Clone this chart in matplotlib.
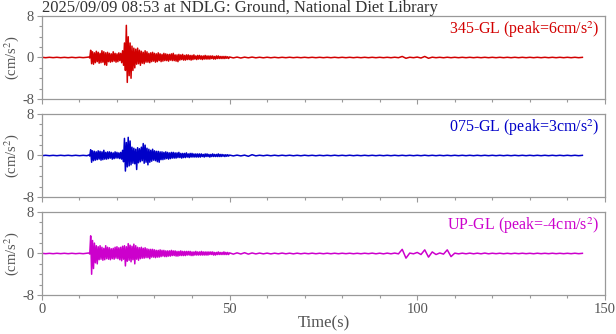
import numpy as np
import matplotlib
matplotlib.use("Agg")
import matplotlib.pyplot as plt
from matplotlib.ticker import MultipleLocator

plt.rcParams['font.family'] = ['Liberation Serif', 'DejaVu Serif']
plt.rcParams['mathtext.fontset'] = 'stix'

# Datos (cm/s2)
# tramo previo: 0..12 s cada 1 s
# tramo principal: desde 12.5 s cada 0.25 s
# cola: desde 50 s cada 1 s
pre_345 = [0.04, -0.04, 0.04, -0.03, 0.04, -0.04, 0.03, -0.04, 0.04, -0.04, 0.04, -0.03, 0.04]
main_345 = [0.1, -0.1,
    1.4, -1.2, 1.1, -1.3,  0.9, -1.0, 1.2, -0.8,  1.0, -1.1, 0.8, -1.0,  1.3, -0.9, 1.1, -1.4,
    0.9, -1.5, 1.0, -0.8,  0.8, -0.9, 0.7, -0.8,  1.1, -0.7, 0.8, -0.9,  0.7, -0.8, 0.9, -0.6,
    0.8, -1.0, 1.3, -1.5,  2.8, -2.5, 6.2, -4.8,  4.0, -3.5, 2.8, -4.0,  2.2, -2.5, 1.8, -2.0,
    1.6, -1.3, 1.8, -1.2,  1.4, -1.5, 1.2, -1.1,  1.0, -1.2, 1.3, -0.9,  1.1, -0.9, 0.8, -1.0,
    0.9, -0.8, 1.0, -0.7,  0.8, -0.9, 0.7, -0.8,  0.9, -0.6, 0.7, -0.8,  0.6, -0.7, 0.8, -0.6,
    0.7, -0.6, 0.6, -0.7,  0.6, -0.5, 0.7, -0.6,  0.8, -0.6, 0.5, -0.7,  0.5, -0.8, 0.6, -0.5,
    0.5, -0.4, 0.6, -0.5,  0.4, -0.5, 0.5, -0.4,  0.5, -0.4, 0.4, -0.5,  0.4, -0.4, 0.5, -0.3,
    0.3, -0.4, 0.4, -0.3,  0.4, -0.3, 0.3, -0.4,  0.3, -0.3, 0.4, -0.3,  0.3, -0.3, 0.3, -0.3,
    0.3, -0.2, 0.3, -0.3,  0.2, -0.3, 0.3, -0.2,  0.3, -0.2, 0.2, -0.2,  0.2, -0.2, 0.2, -0.2,
    0.2, -0.15, 0.15, -0.2]
tail_345 = [0.1, -0.08, 0.08, -0.1, 0.07, -0.06, 0.08, -0.06, 0.05, -0.06,
    0.05, -0.05, 0.04, -0.05, 0.04, -0.04, 0.05, -0.04, 0.04, -0.04,
    0.04, -0.04, 0.04, -0.04, 0.04, -0.04, 0.04, -0.04, 0.04, -0.04,
    0.04, -0.04, 0.04, -0.04, 0.04, -0.04, 0.04, -0.04, 0.04, -0.04,
    0.04, -0.04, 0.04, -0.04, 0.05, -0.04, 0.2, -0.15, 0.05, -0.04,
    0.08, -0.1, 0.2, -0.15, 0.06, -0.04, 0.04, -0.05, 0.05, -0.04,
    0.04, -0.04, 0.04, -0.04, 0.04, -0.04, 0.04, -0.04, 0.04, -0.04,
    0.04, -0.04, 0.04, -0.04, 0.04, -0.04, 0.04, -0.04, 0.04, -0.04,
    0.04, -0.04, 0.04, -0.04, 0.04, -0.04, 0.04, -0.04, 0.04, -0.04,
    0.04, -0.04, 0.04, -0.04, 0.03]

pre_075 = [-0.04, 0.04, -0.04, 0.03, -0.04, 0.04, -0.03, 0.04, -0.04, 0.04, -0.04, 0.03, -0.04]
main_075 = [0.1, -0.1,
    1.1, -1.3, 0.9, -1.0,  0.8, -0.9, 0.7, -0.8,  0.9, -0.7, 0.8, -0.9,  0.7, -0.8, 1.0, -0.7,
    0.6, -0.7, 0.7, -0.6,  0.7, -0.5, 0.6, -0.7,  0.5, -0.6, 0.7, -0.5,  0.6, -0.5, 0.5, -0.6,
    0.6, -0.7, 1.0, -1.2,  3.3, -3.0, 2.5, -2.2,  3.5, -2.0, 2.8, -1.8,  1.6, -1.5, 1.4, -1.6,
    1.2, -2.7, 1.5, -1.4,  1.3, -1.2, 1.6, -1.0,  2.3, -1.5, 2.0, -1.3,  1.4, -1.8, 1.2, -1.3,
    1.0, -1.1, 1.2, -0.9,  0.9, -1.0, 0.8, -1.2,  0.8, -1.3, 0.7, -0.8,  0.7, -0.8, 0.6, -0.7,
    0.7, -0.6, 0.6, -0.7,  0.5, -0.6, 0.6, -0.5,  0.6, -0.5, 0.5, -0.5,  0.5, -0.4, 0.6, -0.4,
    0.4, -0.5, 0.4, -0.4,  0.4, -0.4, 0.5, -0.3,  0.3, -0.4, 0.4, -0.3,  0.4, -0.3, 0.3, -0.3,
    0.3, -0.3, 0.3, -0.3,  0.3, -0.3, 0.3, -0.2,  0.2, -0.3, 0.3, -0.2,  0.3, -0.2, 0.2, -0.3,
    0.2, -0.2, 0.3, -0.2,  0.2, -0.2, 0.2, -0.2,  0.3, -0.2, 0.2, -0.2,  0.2, -0.15, 0.15, -0.2,
    0.15, -0.15, 0.15, -0.12]
tail_075 = [0.08, -0.08, 0.07, -0.08, 0.07, -0.15, 0.15, -0.07, 0.05, -0.05,
    0.06, -0.05, 0.05, -0.05, 0.05, -0.04, 0.05, -0.05, 0.04, -0.05,
    0.05, -0.04, 0.04, -0.05, 0.04, -0.04, 0.04, -0.04, 0.05, -0.04,
    0.04, -0.04, 0.05, -0.04, 0.04, -0.04, 0.04, -0.04, 0.04, -0.04,
    0.04, -0.04, 0.04, -0.04, 0.04, -0.04, 0.04, -0.04, 0.04, -0.04,
    0.04, -0.04, 0.05, -0.04, 0.04, -0.04, 0.04, -0.04, 0.04, -0.04,
    0.04, -0.04, 0.04, -0.04, 0.04, -0.04, 0.04, -0.04, 0.04, -0.04,
    0.04, -0.04, 0.04, -0.04, 0.04, -0.04, 0.04, -0.04, 0.04, -0.04,
    0.04, -0.04, 0.04, -0.04, 0.04, -0.04, 0.04, -0.04, 0.04, -0.04,
    0.04, -0.04, 0.04, -0.04, 0.03]

pre_up = [0.04, -0.04, 0.03, -0.04, 0.04, -0.03, 0.04, -0.04, 0.04, -0.04, 0.03, -0.04, 0.04]
main_up = [0.1, -0.1,
    3.4, -4.0, 2.5, -2.9,  2.0, -1.8, 1.5, -2.0,  1.3, -1.2, 1.5, -1.1,  1.2, -1.3, 1.0, -1.2,
    1.5, -1.0, 1.2, -1.1,  1.1, -1.2, 0.9, -1.0,  1.0, -1.1, 1.2, -0.9,  1.3, -1.0, 1.1, -1.2,
    1.2, -1.4, 1.4, -1.1,  1.5, -2.4, 1.3, -1.5,  1.9, -1.3, 1.6, -1.6,  1.4, -1.2, 1.8, -2.0,
    1.5, -1.1, 1.2, -1.3,  1.1, -1.0, 1.2, -0.9,  1.0, -0.9, 1.1, -0.8,  0.9, -0.8, 0.8, -1.0,
    0.8, -0.7, 0.8, -0.7,  0.7, -0.8, 0.6, -0.7,  0.6, -0.7, 0.7, -0.6,  0.6, -0.5, 0.6, -0.6,
    0.5, -0.6, 0.5, -0.5,  0.5, -0.5, 0.6, -0.4,  0.5, -0.4, 0.5, -0.5,  0.4, -0.5, 0.4, -0.4,
    0.5, -0.4, 0.4, -0.4,  0.4, -0.4, 0.4, -0.3,  0.4, -0.3, 0.4, -0.4,  0.3, -0.4, 0.3, -0.3,
    0.4, -0.3, 0.3, -0.3,  0.3, -0.3, 0.4, -0.3,  0.3, -0.3, 0.3, -0.3,  0.3, -0.3, 0.3, -0.2,
    0.3, -0.2, 0.3, -0.3,  0.2, -0.3, 0.2, -0.2,  0.3, -0.2, 0.2, -0.2,  0.2, -0.2, 0.3, -0.2,
    0.2, -0.2, 0.2, -0.2]
tail_up = [0.12, -0.12, 0.12, -0.1, 0.15, -0.12, 0.1, -0.08, 0.08, -0.07,
    0.07, -0.08, 0.06, -0.06, 0.08, -0.06, 0.06, -0.07, 0.06, -0.06,
    0.05, -0.05, 0.06, -0.05, 0.05, -0.05, 0.05, -0.05, 0.05, -0.05,
    0.05, -0.04, 0.05, -0.05, 0.04, -0.05, 0.05, -0.04, 0.07, -0.06,
    0.06, -0.07, 0.07, -0.06, 0.08, -0.07, 0.8, -0.9, 0.08, -0.06,
    0.2, -0.2, 0.7, -0.7, 0.3, -0.2, 0.1, -0.12, 0.7, -0.6,
    0.07, -0.07, 0.06, -0.06, 0.07, -0.06, 0.06, -0.06, 0.08, -0.06,
    0.05, -0.04, 0.05, -0.05, 0.04, -0.05, 0.05, -0.04, 0.05, -0.04,
    0.04, -0.05, 0.05, -0.04, 0.04, -0.04, 0.05, -0.04, 0.04, -0.04,
    0.04, -0.04, 0.05, -0.04, 0.03]

componentes = ['345-GL', '075-GL', 'UP-GL']
picos = ['6', '3', '-4']
colores = ['#d20000', '#0000c8', '#cc00cc']
datos = [(pre_345, main_345, tail_345), (pre_075, main_075, tail_075), (pre_up, main_up, tail_up)]

titulo = '2025/09/09 08:53 at NDLG: Ground, National Diet Library'

gris = '#999999'
gris_txt = '#555555'

fig = plt.figure(figsize=(6.16, 3.34), dpi=100)

bottoms = [0.7036, 0.4102, 0.1168]
for i in range(3):
    ax = fig.add_axes([0.068, bottoms[i], 0.914, 0.2485])
    pre, main, tail = datos[i]
    t = np.concatenate([np.arange(len(pre)) * 1.0,
                        12.5 + 0.25 * np.arange(len(main)),
                        50.0 + np.arange(len(tail)) * 1.0])
    a = np.concatenate([pre, main, tail])
    ax.plot(t, a, color=colores[i], lw=1.1)

    ax.set_xlim(0, 150)
    ax.set_ylim(-8, 8)
    ax.set_yticks([-8, 0, 8])
    ax.set_yticklabels(['-8', '0', '8'])
    ax.yaxis.set_minor_locator(MultipleLocator(2))
    ax.set_xticks([0, 50, 100, 150])
    ax.xaxis.set_minor_locator(MultipleLocator(10))
    ax.tick_params(which='major', direction='out', length=3.5, width=0.8,
                   color=gris, labelcolor=gris_txt, labelsize=10.5, pad=2)
    ax.tick_params(which='minor', direction='out', length=2.2, width=0.8, color=gris)
    for s in ax.spines.values():
        s.set_color(gris)
        s.set_linewidth(0.9)
    if i < 2:
        ax.tick_params(axis='x', labelbottom=False)
    else:
        ax.set_xlabel('Time(s)', color=gris_txt, fontsize=12, labelpad=0)
    ax.set_ylabel('(cm/s$^2$)', color=gris_txt, fontsize=10.5, labelpad=1)

    ax.text(0.99, 0.96, componentes[i] + ' (peak=' + picos[i] + 'cm/s$^2$)',
            transform=ax.transAxes, ha='right', va='top', color=colores[i], fontsize=11.5)

    if i == 0:
        ax.annotate(titulo, xy=(0, 1), xycoords='axes fraction', xytext=(0, 3),
                    textcoords='offset points', ha='left', va='baseline',
                    color='#333333', fontsize=12)

plt.savefig('out.png', dpi=100)
